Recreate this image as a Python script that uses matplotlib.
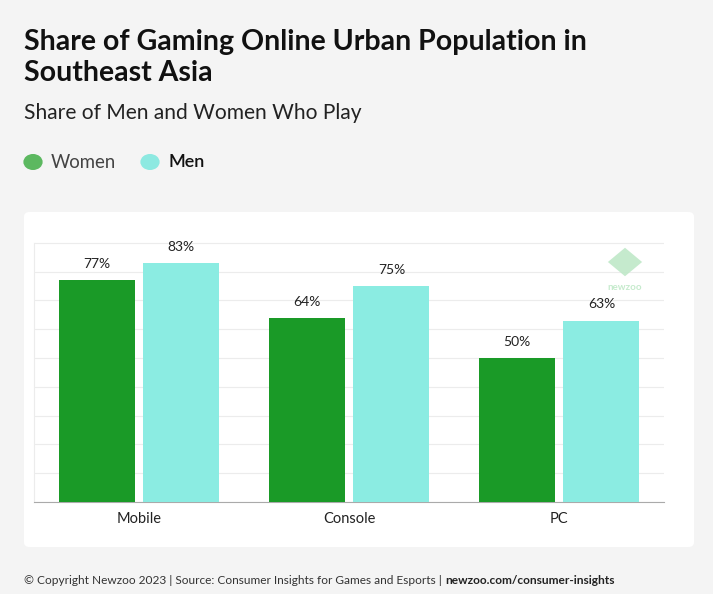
import matplotlib.pyplot as plt
import numpy as np
from matplotlib.patches import FancyBboxPatch, Circle, RegularPolygon

# Data
platforms = ["Mobile", "Console", "PC"]
women = [77, 64, 50]
men = [83, 75, 63]

women_color = "#1a9a27"
men_color = "#8becE2"
bg = "#f4f4f4"

plt.rcParams["font.family"] = ["Lato", "DejaVu Sans"]

fig = plt.figure(figsize=(7.13, 5.94), dpi=100)
fig.patch.set_facecolor(bg)

# white panel behind the chart
panel = FancyBboxPatch((24 / 713, 47 / 594), 670 / 713, 335 / 594,
                       boxstyle="round,pad=0,rounding_size=0.008",
                       transform=fig.transFigure, facecolor="white",
                       edgecolor="none", zorder=0)
fig.patches.append(panel)

# titles
fig.text(24 / 713, 1 - 42 / 594, "Share of Gaming Online Urban Population in",
         fontsize=20.5, fontweight="bold", color="#111111", va="center")
fig.text(24 / 713, 1 - 73 / 594, "Southeast Asia",
         fontsize=20.5, fontweight="bold", color="#111111", va="center")
fig.text(24 / 713, 1 - 113 / 594, "Share of Men and Women Who Play",
         fontsize=15.1, color="#222222", va="center")

# legend
fig.patches.append(Circle((33 / 713, 1 - 162 / 594), 0.0135, transform=fig.transFigure,
                          facecolor="#5cb860", edgecolor="none"))
fig.text(51 / 713, 1 - 162 / 594, "Women", fontsize=13.4, color="#444444", va="center")
fig.patches.append(Circle((150 / 713, 1 - 162 / 594), 0.0135, transform=fig.transFigure,
                          facecolor="#8de9e1", edgecolor="none"))
fig.text(168 / 713, 1 - 162 / 594, "Men", fontsize=13, color="#111111", va="center",
         fontweight="semibold")

# chart
ax = fig.add_axes([34 / 713, 92 / 594, 630 / 713, 288 / 594])
ax.set_zorder(2)
ax.set_facecolor("none")
x = np.arange(len(platforms))
w = 0.362
ax.bar(x - 0.202, women, w, color=women_color, zorder=3)
ax.bar(x + 0.202, men, w, color=men_color, zorder=3)

for xi, v in zip(x, women):
    ax.text(xi - 0.202, v + 3.5, f"{v}%", ha="center", va="bottom",
            fontsize=10, color="#222222")
for xi, v in zip(x, men):
    ax.text(xi + 0.202, v + 3.5, f"{v}%", ha="center", va="bottom",
            fontsize=10, color="#222222")

ax.set_xlim(-0.5, 2.5)
ax.set_ylim(0, 100)
ax.set_yticks(range(0, 100, 10))
ax.yaxis.grid(True, color="#ececec", linewidth=0.8, zorder=0)
ax.tick_params(axis="y", left=False, labelleft=False)
ax.tick_params(axis="x", bottom=False, labelsize=10.5, pad=4, colors="#222222")
ax.set_xticks(x)
ax.set_xticklabels(platforms)
for s in ["top", "right"]:
    ax.spines[s].set_visible(False)
ax.spines["left"].set_color("#ececec")
ax.spines["left"].set_bounds(0, 90)
ax.spines["bottom"].set_color("#aaaaaa")
ax.spines["bottom"].set_bounds(-0.5, 2.5)

# watermark
fig.patches.append(RegularPolygon((625 / 713, 1 - 262 / 594), 4, radius=0.024,
                                  orientation=0, transform=fig.transFigure,
                                  facecolor="#bfe8c8", edgecolor="none", alpha=0.9,
                                  zorder=3))
fig.text(625 / 713, 1 - 287 / 594, "newzoo", fontsize=7, color="#c6ebcd",
         ha="center", va="center", fontweight="bold", zorder=3)

# footer
foot = fig.text(24 / 713, 1 - 580 / 594,
                "© Copyright Newzoo 2023 | Source: Consumer Insights for Games and Esports | ",
                fontsize=8.55, color="#333333", va="center")
fig.canvas.draw()
bb = foot.get_window_extent()
fig.text(bb.x1 / fig.bbox.width, 1 - 580 / 594, "newzoo.com/consumer-insights",
         fontsize=8.55, color="#222222", va="center", fontweight="bold")

fig.savefig("out.png", dpi=100, facecolor=bg)
